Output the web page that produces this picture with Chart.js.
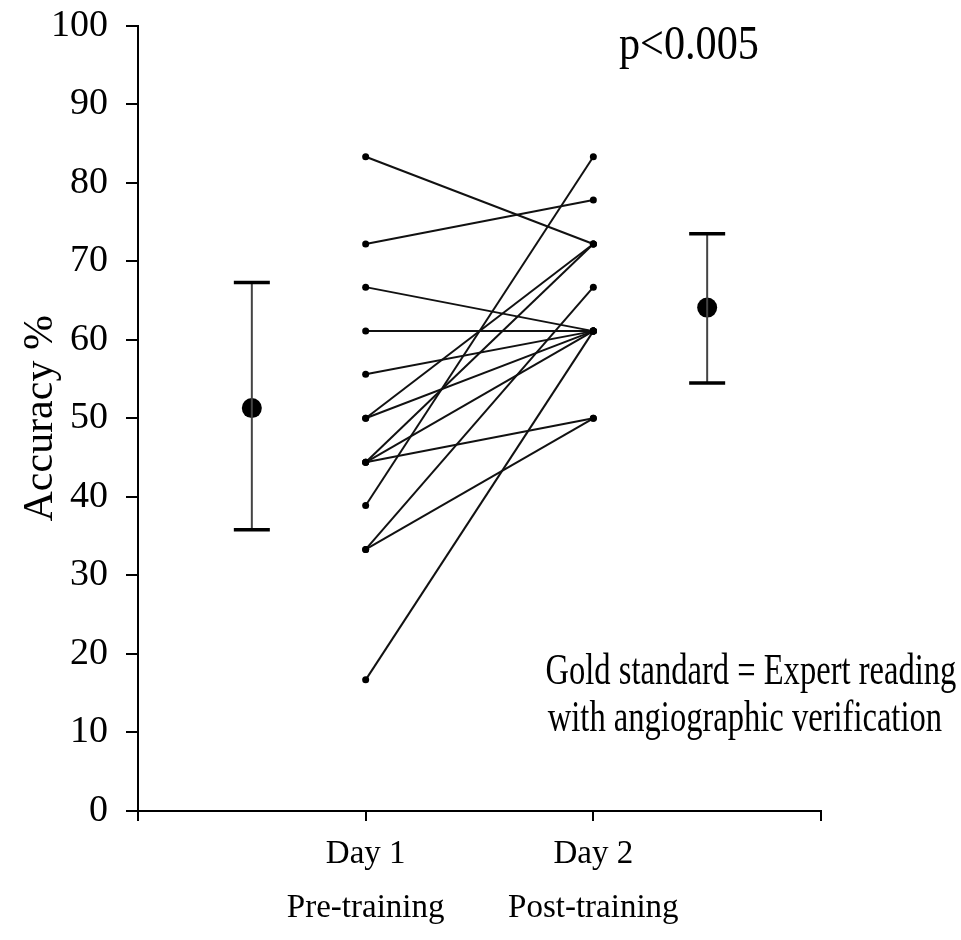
<!DOCTYPE html>
<html>
<head>
<meta charset="utf-8">
<script src="https://cdn.jsdelivr.net/npm/chart.js@4.4.1/dist/chart.umd.min.js"></script>
<style>
  body { margin: 0; background: #fff; }
  #wrap { width: 961px; height: 940px; }
</style>
</head>
<body>
<div id="wrap"><canvas id="canvasChart"></canvas></div>
<script>
// accuracy (%) of each reader, day 1 (pre-training) -> day 2 (post-training)
var day1Values = [83.3, 72.2, 66.7, 61.1, 55.6, 50.0, 50.0, 44.4, 44.4, 44.4, 38.9, 33.3, 33.3, 16.7];
var day2Values = [72.2, 77.8, 61.1, 61.1, 61.1, 72.2, 61.1, 72.2, 61.1, 50.0, 83.3, 66.7, 50.0, 61.1];

// group summary: mean with lower / upper bar
var summaryX = [0.5, 2.5];
var summaryMean = [51.3, 64.1];
var summaryLow = [35.8, 54.5];
var summaryHigh = [67.3, 73.5];

var dayX = [1, 2];
var dayLabels = [['Day 1', 'Pre-training'], ['Day 2', 'Post-training']];
var yTicks = [0, 10, 20, 30, 40, 50, 60, 70, 80, 90, 100];

var serif = "'Liberation Serif', 'Times New Roman', serif";

var datasets = [];

for (var i = 0; i < day1Values.length; i++) {
    datasets.push({
        data: [{x: dayX[0], y: day1Values[i]}, {x: dayX[1], y: day2Values[i]}],
        showLine: true,
        borderColor: '#111',
        borderWidth: 2,
        pointRadius: 3.5,
        pointBackgroundColor: '#000',
        pointBorderColor: '#000',
        pointBorderWidth: 0
    });
}

for (var j = 0; j < summaryX.length; j++) {
    // vertical bar with caps
    datasets.push({
        data: [{x: summaryX[j], y: summaryLow[j]}, {x: summaryX[j], y: summaryHigh[j]}],
        showLine: true,
        borderColor: '#444',
        borderWidth: 2,
        pointStyle: 'line',
        pointRadius: 18,
        pointBorderColor: '#000',
        pointBorderWidth: 3.5
    });
    // mean dot
    datasets.push({
        data: [{x: summaryX[j], y: summaryMean[j]}],
        pointRadius: 10,
        pointBackgroundColor: '#000',
        pointBorderColor: '#000',
        pointBorderWidth: 0
    });
}

// free text on the plot, drawn slightly condensed like the original
var notesPlugin = {
    id: 'notes',
    afterDraw: function(chart) {
        var ctx = chart.ctx;
        var xs = chart.scales.x, ys = chart.scales.y;
        function note(text, xv, yv, size, squeeze, align) {
            ctx.save();
            ctx.font = size + 'px ' + serif;
            ctx.fillStyle = '#000';
            ctx.textBaseline = 'alphabetic';
            ctx.textAlign = align;
            ctx.translate(xs.getPixelForValue(xv), ys.getPixelForValue(yv));
            ctx.scale(squeeze, 1);
            ctx.fillText(text, 0, 0);
            ctx.restore();
        }
        note('p<0.005', 2.42, 95.7, 48, 0.88, 'center');
        note('Gold standard = Expert reading', 1.79, 16.2, 44, 0.74, 'left');
        note('with angiographic verification', 1.80, 10.2, 44, 0.74, 'left');
    }
};

var chartConfig = {
    type: 'scatter',
    data: { datasets: datasets },
    options: {
        responsive: true,
        maintainAspectRatio: false,
        animation: false,
        layout: {
            padding: { top: 12, right: 140, bottom: 0, left: 0 }
        },
        plugins: {
            legend: { display: false },
            tooltip: { enabled: false }
        },
        scales: {
            x: {
                type: 'linear',
                min: 0,
                max: 3,
                afterFit: function(scale) { scale.height = 129; },
                afterBuildTicks: function(scale) {
                    scale.ticks = [0, 1, 2, 3].map(function(v) { return {value: v}; });
                },
                ticks: {
                    color: '#000',
                    padding: 6,
                    font: { family: serif, size: 33, lineHeight: 1.65 },
                    callback: function(value) {
                        var k = dayX.indexOf(value);
                        return k >= 0 ? dayLabels[k] : '';
                    }
                },
                grid: {
                    drawOnChartArea: false,
                    color: '#000',
                    lineWidth: 2,
                    tickLength: 10
                },
                border: { color: '#000', width: 2 }
            },
            y: {
                min: 0,
                max: 100,
                afterFit: function(scale) { scale.width = 138; },
                afterBuildTicks: function(scale) {
                    scale.ticks = yTicks.map(function(v) { return {value: v}; });
                },
                ticks: {
                    color: '#000',
                    padding: 18,
                    font: { family: serif, size: 38, lineHeight: 0.4 }
                },
                grid: {
                    drawOnChartArea: false,
                    color: '#000',
                    lineWidth: 2,
                    tickLength: 12
                },
                border: { color: '#000', width: 2 },
                title: {
                    display: true,
                    text: 'Accuracy %',
                    color: '#000',
                    padding: { top: 16, bottom: 0 },
                    font: { family: serif, size: 42 }
                }
            }
        }
    },
    plugins: [notesPlugin]
};

var chartObject = new Chart(document.getElementById('canvasChart').getContext('2d'), chartConfig);
</script>
</body>
</html>
